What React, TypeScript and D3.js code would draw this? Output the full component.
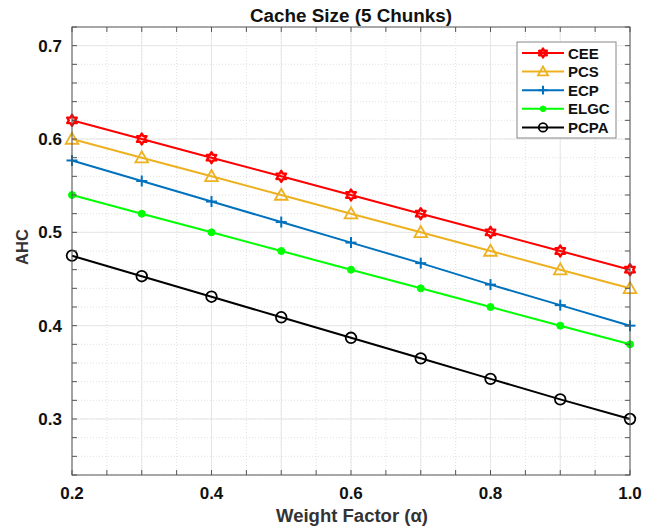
import React from "react";
import * as d3 from "d3";

const xValues = [0.2, 0.3, 0.4, 0.5, 0.6, 0.7, 0.8, 0.9, 1.0];
const seriesNames = ["CEE", "PCS", "ECP", "ELGC", "PCPA"];
const ceeValues = [0.62, 0.6, 0.58, 0.56, 0.54, 0.52, 0.5, 0.48, 0.46];
const pcsValues = [0.6, 0.58, 0.56, 0.54, 0.52, 0.5, 0.48, 0.46, 0.44];
const ecpValues = [0.577, 0.555, 0.533, 0.511, 0.489, 0.467, 0.444, 0.422, 0.4];
const elgcValues = [0.54, 0.52, 0.5, 0.48, 0.46, 0.44, 0.42, 0.4, 0.38];
const pcpaValues = [0.475, 0.453, 0.431, 0.409, 0.387, 0.365, 0.343, 0.321, 0.3];
const xTickLabels = ["0.2", "0.4", "0.6", "0.8", "1.0"];
const yTickLabels = ["0.3", "0.4", "0.5", "0.6", "0.7"];

const allValues = [ceeValues, pcsValues, ecpValues, elgcValues, pcpaValues];
const colors = ["#ff0000", "#edb120", "#0072bd", "#00ff00", "#000000"];
const markers = ["hexagram", "triangle", "plus", "asterisk", "circle"];

const W = 658, H = 527;
const m = { left: 72, right: 630, top: 27, bottom: 475 };
const FONT = "'Liberation Sans', Arial, sans-serif";

function Marker({ type, x, y, color, scale = 1 }: { type: string; x: number; y: number; color: string; scale?: number }) {
  if (type === "hexagram") {
    const pts: string[] = [];
    const R = 5.5 * scale, r = 3.2 * scale;
    for (let i = 0; i < 12; i++) {
      const a = (Math.PI / 6) * i - Math.PI / 2;
      const rr = i % 2 === 0 ? R : r;
      pts.push(`${x + rr * Math.cos(a)},${y + rr * Math.sin(a)}`);
    }
    return <polygon points={pts.join(" ")} fill="none" stroke={color} strokeWidth={2.4} strokeLinejoin="round" />;
  }
  if (type === "triangle") {
    const s = 6.3 * scale;
    return (
      <polygon
        points={`${x},${y - s} ${x - s},${y + s * 0.75} ${x + s},${y + s * 0.75}`}
        fill="none"
        stroke={color}
        strokeWidth={1.8}
      />
    );
  }
  if (type === "plus") {
    const s = 5.5 * scale;
    return (
      <g stroke={color} strokeWidth={2}>
        <line x1={x - s} y1={y} x2={x + s} y2={y} />
        <line x1={x} y1={y - s} x2={x} y2={y + s} />
      </g>
    );
  }
  if (type === "asterisk") {
    return <circle cx={x} cy={y} r={3.5 * scale} fill={color} stroke={color} strokeWidth={1} />;
  }
  return <circle cx={x} cy={y} r={5.3 * scale} fill="none" stroke={color} strokeWidth={1.8} />;
}

export default function App() {
  const x = d3.scaleLinear().domain([0.2, 1.0]).range([m.left, m.right]);
  const y = d3.scaleLinear().domain([0.24, 0.72]).range([m.bottom, m.top]);
  const line = d3
    .line<number>()
    .x((_, i) => x(xValues[i]))
    .y((d) => y(d));

  const xMinor = d3.range(0.2, 1.0001, 0.05);
  const xMajorGrid = d3.range(0.2, 1.0001, 0.1);
  const yMinor = d3.range(0.24, 0.7201, 0.02);
  const yMajor = yTickLabels.map(Number);
  const xMajor = xTickLabels.map(Number);

  const legX = 517, legY = 42, legW = 99, legH = 96;

  return (
    <svg width={W} height={H} style={{ position: "absolute", left: 0, top: 0, background: "#fff" }}>
      <rect x={0} y={0} width={W} height={H} fill="#fff" />
      {xMinor.map((v, i) => (
        <line key={"xm" + i} x1={x(v)} x2={x(v)} y1={m.top} y2={m.bottom} stroke="#d8d8d8" strokeWidth={0.8} strokeDasharray="1,2" />
      ))}
      {yMinor.map((v, i) => (
        <line key={"ym" + i} x1={m.left} x2={m.right} y1={y(v)} y2={y(v)} stroke="#d8d8d8" strokeWidth={0.8} strokeDasharray="1,2" />
      ))}
      {xMajorGrid.map((v, i) => (
        <line key={"xg" + i} x1={x(v)} x2={x(v)} y1={m.top} y2={m.bottom} stroke="#e6e6e6" strokeWidth={1} />
      ))}
      {yMajor.map((v, i) => (
        <line key={"yg" + i} x1={m.left} x2={m.right} y1={y(v)} y2={y(v)} stroke="#e6e6e6" strokeWidth={1} />
      ))}
      {allValues.map((vals, si) => (
        <g key={"s" + si}>
          <path d={line(vals) || ""} fill="none" stroke={colors[si]} strokeWidth={2} />
          {vals.map((v, i) => (
            <Marker key={i} type={markers[si]} x={x(xValues[i])} y={y(v)} color={colors[si]} />
          ))}
        </g>
      ))}
      <rect x={m.left} y={m.top} width={m.right - m.left} height={m.bottom - m.top} fill="none" stroke="#555" strokeWidth={1} />
      {xMinor.map((v, i) => (
        <g key={"xt" + i} stroke="#555" strokeWidth={1}>
          <line x1={x(v)} x2={x(v)} y1={m.bottom} y2={m.bottom - 5} />
          <line x1={x(v)} x2={x(v)} y1={m.top} y2={m.top + 5} />
        </g>
      ))}
      {yMinor.map((v, i) => (
        <g key={"yt" + i} stroke="#555" strokeWidth={1}>
          <line x1={m.left} x2={m.left + 5} y1={y(v)} y2={y(v)} />
          <line x1={m.right} x2={m.right - 5} y1={y(v)} y2={y(v)} />
        </g>
      ))}
      {xMajor.map((v, i) => (
        <text key={"xl" + i} x={x(v)} y={499} textAnchor="middle" fontFamily={FONT} fontWeight="bold" fontSize={17} fill="#111">
          {xTickLabels[i]}
        </text>
      ))}
      {yMajor.map((v, i) => (
        <text key={"yl" + i} x={62} y={y(v) + 6} textAnchor="end" fontFamily={FONT} fontWeight="bold" fontSize={17} fill="#111">
          {yTickLabels[i]}
        </text>
      ))}
      <text x={352} y={522} textAnchor="middle" fontFamily={FONT} fontWeight="bold" fontSize={18} fill="#333" textLength={152} lengthAdjust="spacingAndGlyphs">
        Weight Factor (α)
      </text>
      <text transform={`translate(27.5,247) rotate(-90)`} textAnchor="middle" fontFamily={FONT} fontWeight="bold" fontSize={16.5} fill="#333">
        AHC
      </text>
      <text x={351} y={22} textAnchor="middle" fontFamily={FONT} fontWeight="bold" fontSize={17.5} fill="#111" textLength={202} lengthAdjust="spacingAndGlyphs">
        Cache Size (5 Chunks)
      </text>
      <rect x={legX} y={legY} width={legW} height={legH} fill="#fff" stroke="#888" strokeWidth={1} />
      {seriesNames.map((name, i) => {
        const ly = legY + 11 + i * 18.6;
        return (
          <g key={"lg" + i}>
            <line x1={legX + 5} x2={legX + 47} y1={ly} y2={ly} stroke={colors[i]} strokeWidth={2} />
            <Marker type={markers[i]} x={legX + 26} y={ly} color={colors[i]} scale={0.8} />
            <text x={legX + 51} y={ly + 5.5} fontFamily={FONT} fontWeight="bold" fontSize={15} fill="#111">
              {name}
            </text>
          </g>
        );
      })}
    </svg>
  );
}
